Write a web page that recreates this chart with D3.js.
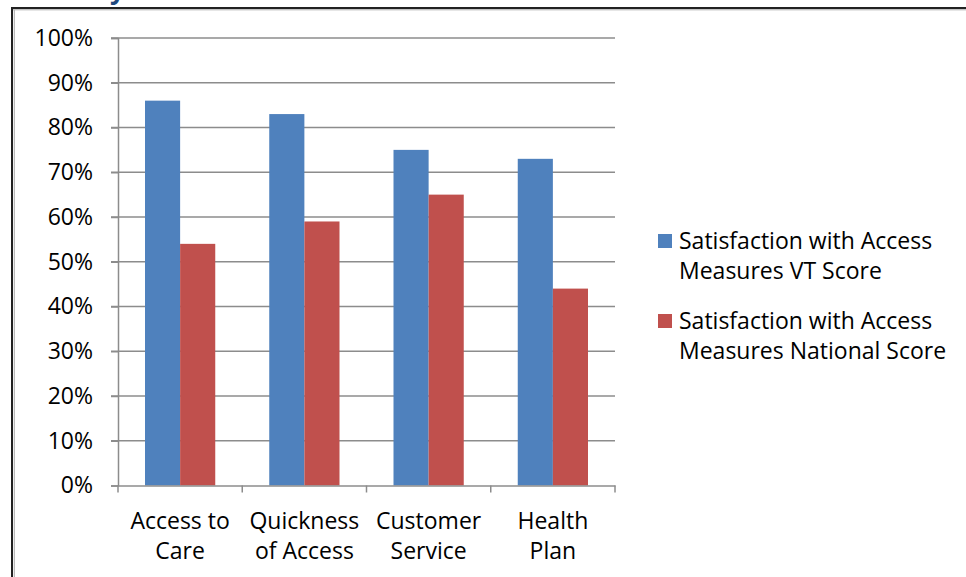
<!DOCTYPE html>
<html>
<head>
<meta charset="utf-8">
<script src="https://cdn.jsdelivr.net/npm/d3@7"></script>
<style>
  body { margin: 0; background: #fff; }
  svg { display: block; font-family: "Open Sans", sans-serif; }
</style>
</head>
<body>
<div id="chart"></div>
<script>
const categories = [["Access to", "Care"], ["Quickness", "of Access"], ["Customer", "Service"], ["Health", "Plan"]];
const seriesNames = [
  ["Satisfaction with Access", "Measures VT Score"],
  ["Satisfaction with Access", "Measures National Score"]
];
const vtScore = [86, 83, 75, 73];
const nationalScore = [54, 59, 65, 44];
const yTicks = [0, 10, 20, 30, 40, 50, 60, 70, 80, 90, 100];

const width = 966,
  height = 577,
  plot = { left: 118, right: 615, top: 38, bottom: 485.5 },
  colors = ["#4F81BD", "#C0504D"],
  gridColor = "#8c8c8c",
  fontSize = 23;

const svg = d3.select("#chart")
  .append("svg")
  .attr("width", width)
  .attr("height", height);

// frame of the surrounding document box
svg.append("line").attr("x1", 12).attr("x2", width).attr("y1", 8).attr("y2", 8)
  .attr("stroke", "#222").attr("stroke-width", 2);
svg.append("line").attr("x1", 12).attr("x2", width).attr("y1", 9.8).attr("y2", 9.8)
  .attr("stroke", "#aaa").attr("stroke-width", 1);
svg.append("line").attr("x1", 12).attr("x2", 12).attr("y1", 7).attr("y2", height)
  .attr("stroke", "#222").attr("stroke-width", 2);
svg.append("line").attr("x1", 14.3).attr("x2", 14.3).attr("y1", 10).attr("y2", height)
  .attr("stroke", "#aaa").attr("stroke-width", 1);

// clipped title descender peeking over the frame
svg.append("text")
  .attr("x", 110).attr("y", -1)
  .attr("fill", "#1F497D")
  .attr("font-weight", "bold")
  .attr("font-size", 26)
  .text("y");

const y = d3.scaleLinear().domain([0, 100]).range([plot.bottom, plot.top]);

const x0 = d3.scaleBand()
  .domain(d3.range(categories.length))
  .range([plot.left, plot.right])
  .padding(0);

const x1 = d3.scaleBand()
  .domain([0, 1])
  .range([27, x0.bandwidth() - 27])
  .padding(0);

// gridlines
svg.append("g")
  .selectAll("line")
  .data(yTicks.filter(d => d > 0))
  .enter().append("line")
  .attr("x1", plot.left - 7)
  .attr("x2", plot.right)
  .attr("y1", d => y(d))
  .attr("y2", d => y(d))
  .attr("stroke", gridColor)
  .attr("stroke-width", 1.5);

// y axis
const yAxis = svg.append("g")
  .attr("transform", `translate(${plot.left},0)`)
  .call(d3.axisLeft(y).tickValues(yTicks).tickSize(7).tickPadding(18)
    .tickFormat(d => d + "%"));
yAxis.attr("font-size", fontSize).attr("font-family", null);
yAxis.select(".domain").attr("stroke", gridColor).attr("stroke-width", 1.5);
yAxis.selectAll(".tick line").attr("stroke", gridColor).attr("stroke-width", 1.5);
yAxis.selectAll(".tick text").attr("fill", "#000");

// bars
const series = [vtScore, nationalScore];
const groups = svg.append("g")
  .selectAll("g")
  .data(categories)
  .enter().append("g")
  .attr("transform", (d, i) => `translate(${x0(i)},0)`);

groups.selectAll("rect")
  .data((d, i) => series.map((s, k) => ({ k, v: s[i] })))
  .enter().append("rect")
  .attr("x", d => x1(d.k))
  .attr("width", x1.bandwidth())
  .attr("y", d => y(d.v))
  .attr("height", d => y(0) - y(d.v))
  .attr("fill", d => colors[d.k]);

// x axis
const xAxis = svg.append("g")
  .attr("transform", `translate(0,${plot.bottom})`)
  .call(d3.axisBottom(x0).tickSize(0).tickFormat(""));
xAxis.select(".domain").attr("stroke", gridColor).attr("stroke-width", 1.5);
xAxis.selectAll(".tick").remove();

svg.append("g")
  .selectAll("line")
  .data(d3.range(categories.length + 1))
  .enter().append("line")
  .attr("x1", i => plot.left + i * x0.bandwidth())
  .attr("x2", i => plot.left + i * x0.bandwidth())
  .attr("y1", plot.bottom)
  .attr("y2", plot.bottom + 7)
  .attr("stroke", gridColor)
  .attr("stroke-width", 1.5);

// category labels
const catLabels = svg.append("g")
  .selectAll("text")
  .data(categories)
  .enter().append("text")
  .attr("text-anchor", "middle")
  .attr("font-size", fontSize)
  .attr("fill", "#000");
catLabels.selectAll("tspan")
  .data((d, i) => d.map(t => ({ t, i })))
  .enter().append("tspan")
  .attr("x", d => x0(d.i) + x0.bandwidth() / 2)
  .attr("y", (d, j) => 529 + j * 30)
  .text(d => d.t);

// legend
const legend = svg.append("g")
  .selectAll("g")
  .data(seriesNames)
  .enter().append("g")
  .attr("transform", (d, i) => `translate(658,${234 + i * 80})`);

legend.append("rect")
  .attr("width", 14)
  .attr("height", 14)
  .attr("fill", (d, i) => colors[i]);

legend.append("text")
  .attr("font-size", fontSize)
  .attr("fill", "#000")
  .selectAll("tspan")
  .data(d => d)
  .enter().append("tspan")
  .attr("x", 21)
  .attr("y", (d, j) => 15 + j * 30)
  .text(d => d);
</script>
</body>
</html>
